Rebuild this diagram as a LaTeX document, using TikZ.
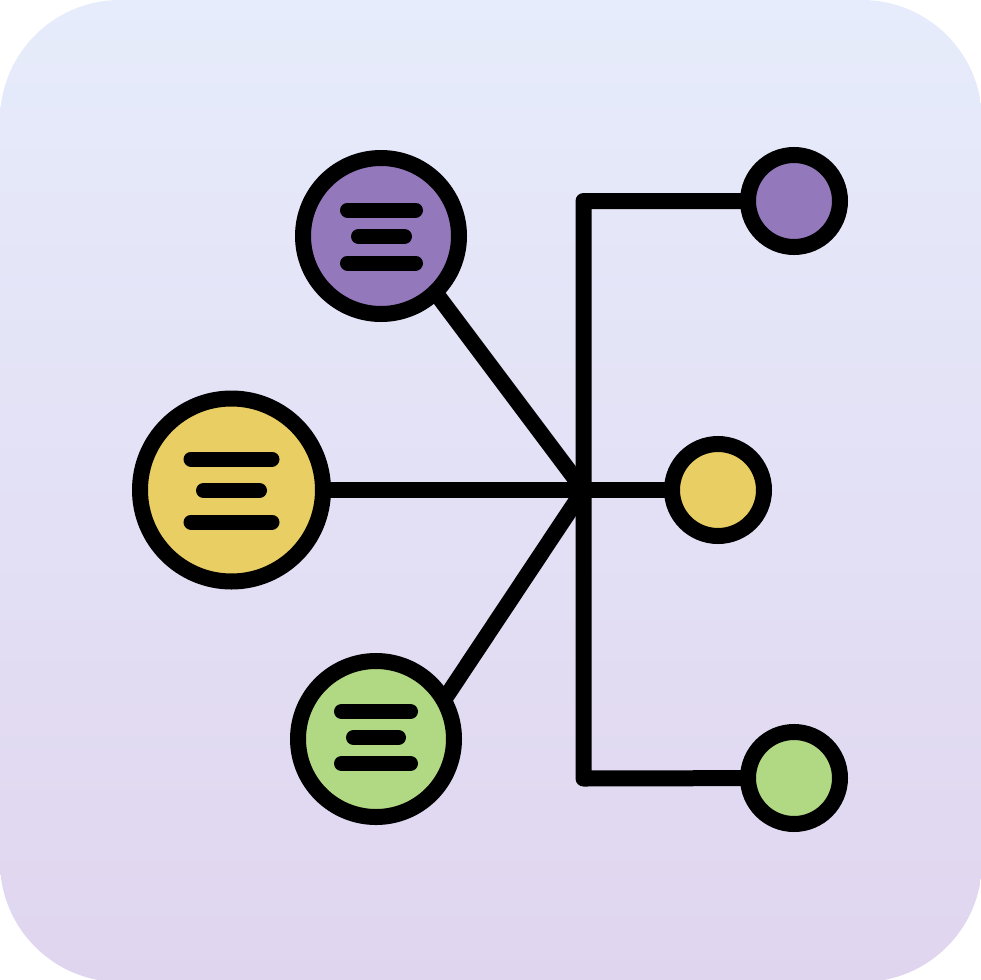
\documentclass[tikz,border=0pt]{standalone}
\usetikzlibrary{calc}
\definecolor{bgtop}{HTML}{E6ECFB}
\definecolor{bgbot}{HTML}{E0D5EF}
\definecolor{cpurple}{HTML}{9478BC}
\definecolor{cyellow}{HTML}{E9CF63}
\definecolor{cgreen}{HTML}{B1D883}
\pgfdeclarelayer{bglayer}
\pgfsetlayers{bglayer,main}
\tikzset{
  bubble/.style={circle, draw=black, line width=16pt, inner sep=0pt, outer sep=0pt},
  wire/.style={line width=16pt, line join=round, draw=black},
  bar/.style={line width=15pt, line cap=round, draw=black},
}
\newcommand\menulines[4]{%
  \draw[bar] ($#1+(-#3,-#2)$) -- ($#1+(#3,-#2)$);
  \draw[bar] ($#1+(-#4,0)$) -- ($#1+(#4,0)$);
  \draw[bar] ($#1+(-#3,#2)$) -- ($#1+(#3,#2)$);
}
\begin{document}
\begin{tikzpicture}[x=1pt,y=-1pt]
\useasboundingbox (0,0) rectangle (980,980);
% nodes
\node[bubble, fill=cpurple, minimum size=156pt] (bp) at (381,236) {};
\node[bubble, fill=cyellow, minimum size=183pt] (by) at (231.5,490) {};
\node[bubble, fill=cgreen, minimum size=156pt] (bg) at (376,739) {};
\node[bubble, fill=cpurple, minimum size=92pt] (sp) at (794,201) {};
\node[bubble, fill=cyellow, minimum size=92pt] (sy) at (718,490) {};
\node[bubble, fill=cgreen, minimum size=92pt] (sg) at (794,778) {};
\coordinate (hub) at (583.5,490);
\coordinate (tc) at (583.5,201);
\coordinate (bc) at (583.5,778.5);
\coordinate (pa) at (393,236);
\coordinate (ga) at (418,739);
% menu bars
\menulines{(381.5,236.5)}{26.5}{34}{23}
\menulines{(231.5,490.5)}{31.5}{40.5}{28}
\menulines{(376,737.5)}{26}{34.5}{22.5}
\begin{pgfonlayer}{bglayer}
\shade[top color=bgtop, bottom color=bgbot, rounded corners=120pt] (0,0) rectangle (982,982);
\draw[wire] (sp.center) -- (tc) -- (bc) -- (sg.center);
\draw[wire] (by.center) -- (sy.center);
\draw[wire] (pa) -- (hub) -- (ga);
\end{pgfonlayer}
\end{tikzpicture}
\end{document}
